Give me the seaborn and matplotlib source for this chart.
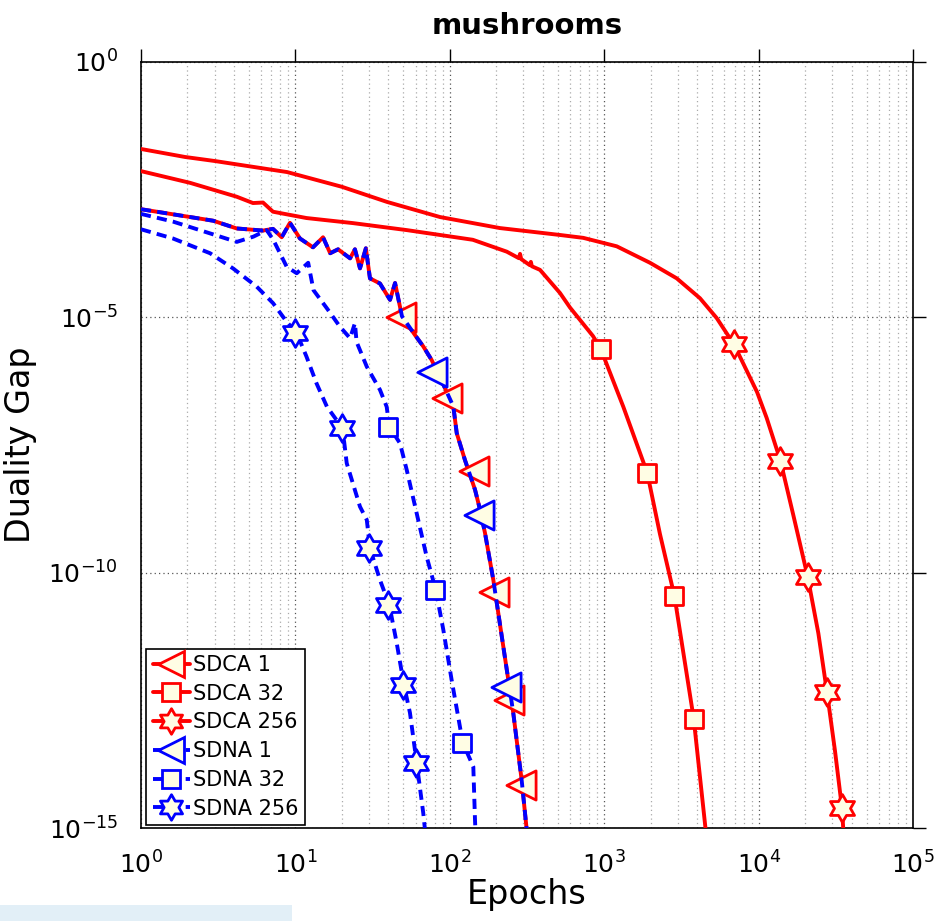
import matplotlib
matplotlib.use("Agg")
import matplotlib.pyplot as plt
import matplotlib.ticker as mticker
from matplotlib.lines import Line2D
from matplotlib.path import Path
from matplotlib.patches import Rectangle
import seaborn as sns

# ---------------- data: duality gap vs. epochs (mushrooms) ----------------
sdca1_x = [1, 2.93, 4.17, 6.17, 7.16, 8.15, 9.22, 10.7, 13.0, 15.1, 16.8, 18.9,
           22.6, 24.3, 26.2, 28.6, 30.4, 35.3, 41.0, 44.2, 47.6, 49, 59.5, 67.3,
           76.3, 93.1, 105.4, 110.9, 125.4, 145.7, 157, 169, 191.4, 222, 257.6,
           292, 315]
sdca1_y = [1.31e-3, 7.8e-4, 5.5e-4, 5.0e-4, 5.4e-4, 3.7e-4, 7.1e-4, 3.5e-4,
           2.35e-4, 3.7e-4, 1.8e-4, 2.15e-4, 1.43e-4, 2.15e-4, 9.1e-5, 2.25e-4,
           5.8e-5, 4.6e-5, 2.2e-5, 4.7e-5, 1.6e-5, 1.05e-5, 4.5e-6, 2.7e-6,
           1.46e-6, 4.1e-7, 1.8e-7, 5.4e-8, 1.6e-8, 4.2e-9, 1.7e-9, 6.0e-10,
           7.2e-11, 3.6e-12, 1.8e-13, 8.7e-15, 9.1e-16]
sdca1_mx = [48, 96, 144, 192, 240, 288]
sdca1_my = [1.02e-5, 2.6e-7, 9.8e-9, 4.1e-11, 3.2e-13, 6.9e-15]

sdca32_x = [1, 2.08, 4.17, 5.31, 6.17, 7.16, 11.8, 23.6, 52.8, 141, 234, 280,
            285, 290, 330, 335, 340, 384, 517, 601, 846, 950, 1330, 1900, 2297,
            2850, 3800, 4613]
sdca32_y = [7.3e-3, 4.3e-3, 2.3e-3, 1.73e-3, 1.77e-3, 1.17e-3, 8.8e-4, 7.0e-4,
            5.1e-4, 3.3e-4, 1.93e-4, 1.44e-4, 1.75e-4, 1.38e-4, 1.05e-4, 1.22e-4,
            1.0e-4, 8.5e-5, 3.0e-5, 1.55e-5, 4.3e-6, 2.4e-6, 1.77e-7, 9.0e-9,
            5.7e-10, 3.5e-11, 1.38e-13, 5.9e-16]
sdca32_mx = [950, 1900, 2850, 3800]
sdca32_my = [2.4e-6, 9.0e-9, 3.5e-11, 1.38e-13]

sdca256_x = [1, 1.93, 3.01, 8.82, 20.0, 39.2, 86.5, 211, 517, 732, 1205, 1980,
             2950, 4170, 5350, 6930, 9770, 11280, 13860, 16800, 20790, 24380,
             27720, 31260, 34650, 35700]
sdca256_y = [1.98e-2, 1.38e-2, 1.15e-2, 7.0e-3, 3.6e-3, 1.82e-3, 9.2e-4, 5.6e-4,
             4.1e-4, 3.6e-4, 2.46e-4, 1.17e-4, 5.8e-5, 2.37e-5, 9.7e-6, 2.94e-6,
             3.45e-7, 1.07e-7, 1.54e-8, 1.32e-9, 8.3e-11, 6.5e-12, 4.6e-13,
             3.2e-14, 2.5e-15, 5.9e-16]
sdca256_mx = [6930, 13860, 20790, 27720, 34650]
sdca256_my = [2.94e-6, 1.54e-8, 8.3e-11, 4.6e-13, 2.5e-15]

sdna1_x = [1, 2.93, 4.17, 6.17, 7.16, 8.15, 9.22, 10.7, 13.0, 15.1, 16.8, 18.9,
           22.6, 24.3, 26.2, 28.6, 30.4, 35.3, 41.0, 44.2, 47.6, 49, 59.5, 67.3,
           76.3, 93.1, 105.4, 110.9, 125.4, 145.7, 157, 169, 191.4, 222, 257.6,
           292, 315]
sdna1_y = [1.31e-3, 7.8e-4, 5.5e-4, 5.0e-4, 5.4e-4, 3.7e-4, 7.1e-4, 3.5e-4,
           2.35e-4, 3.7e-4, 1.8e-4, 2.15e-4, 1.43e-4, 2.15e-4, 9.1e-5, 2.25e-4,
           5.8e-5, 4.6e-5, 2.2e-5, 4.7e-5, 1.6e-5, 1.05e-5, 4.5e-6, 2.7e-6,
           1.46e-6, 4.1e-7, 1.8e-7, 5.4e-8, 1.6e-8, 4.2e-9, 1.7e-9, 6.0e-10,
           7.2e-11, 3.6e-12, 1.8e-13, 8.7e-15, 9.1e-16]
sdna1_mx = [77, 154, 231]
sdna1_my = [8.4e-7, 1.35e-9, 5.8e-13]

sdna32_x = [1, 1.61, 4.17, 5.34, 6.52, 7.19, 8.78, 10.2, 12.1, 13.1, 16.0, 19.4,
            22.6, 24.3, 24.9, 29.0, 35.3, 39.0, 40.6, 47.6, 52.6, 61.0, 70.8,
            81.1, 90.8, 102.8, 121.3, 142, 145.6, 147]
sdna32_y = [1.06e-3, 7.5e-4, 3.0e-4, 3.8e-4, 5.1e-4, 3.3e-4, 9.8e-5, 7.3e-5,
            1.17e-4, 3.4e-5, 1.5e-5, 6.6e-6, 3.9e-6, 7.7e-6, 3.3e-6, 1.08e-6,
            3.8e-7, 1.78e-7, 7.2e-8, 3.4e-8, 1.03e-8, 1.46e-9, 2.06e-10, 4.6e-11,
            7.6e-12, 7.9e-13, 4.7e-14, 1.58e-14, 1.45e-15, 7.2e-16]
sdna32_mx = [40, 80, 120]
sdna32_my = [7.2e-8, 4.6e-11, 4.7e-14]

sdna256_x = [1, 1.61, 2.80, 3.94, 5.61, 7.16, 8.78, 10.2, 11.8, 13.7, 16.0,
             20.2, 21.5, 26.2, 29.0, 30.4, 35.3, 40.6, 45.3, 50.5, 55.2, 61.0,
             67.3, 69.1]
sdna256_y = [5.3e-4, 3.5e-4, 1.8e-4, 9.1e-5, 4.0e-5, 1.9e-5, 8.2e-6, 4.9e-6,
             1.7e-6, 5.1e-7, 1.78e-7, 6.7e-8, 1.39e-8, 1.96e-9, 1.08e-9, 3.0e-10,
             7.2e-11, 2.3e-11, 4.2e-12, 6.3e-13, 1.8e-13, 1.9e-14, 1.97e-15,
             9.1e-16]
sdna256_mx = [10, 20, 30, 40, 50, 60]
sdna256_my = [4.9e-6, 6.7e-8, 3.0e-10, 2.3e-11, 6.3e-13, 1.9e-14]

labels = ["SDCA 1", "SDCA 32", "SDCA 256", "SDNA 1", "SDNA 32", "SDNA 256"]
x_ticks = [1, 10, 100, 1000, 10000, 100000]
y_ticks = [1e-15, 1e-10, 1e-5, 1]

# ---------------- style ----------------
RED = "#ff0000"
BLUE = "#0000ff"
FACE = "#fffde4"
hexagram = Path.unit_regular_star(6, 0.577)
DASH = (0, (2.6, 1.6))

series = [
    (sdca1_x, sdca1_y, sdca1_mx, sdca1_my, RED, "-", "<", 21),
    (sdca32_x, sdca32_y, sdca32_mx, sdca32_my, RED, "-", "s", 13.5),
    (sdca256_x, sdca256_y, sdca256_mx, sdca256_my, RED, "-", hexagram, 20),
    (sdna1_x, sdna1_y, sdna1_mx, sdna1_my, BLUE, DASH, "<", 21),
    (sdna32_x, sdna32_y, sdna32_mx, sdna32_my, BLUE, DASH, "s", 13.5),
    (sdna256_x, sdna256_y, sdna256_mx, sdna256_my, BLUE, DASH, hexagram, 20),
]

sns.set_style("white")
plt.rcParams.update({
    "font.family": ["DejaVu Sans"],
    "mathtext.fontset": "dejavusans",
    "text.color": "black",
    "axes.labelcolor": "black",
    "xtick.color": "black",
    "ytick.color": "black",
})

fig = plt.figure(figsize=(9.36, 9.21), dpi=100)
ax = fig.add_axes([141 / 936, 1 - 828 / 921, 772 / 936, 766 / 921])
ax.set_xscale("log")
ax.set_yscale("log")

LW = 2.8
handles = []
for i, (lx, ly, mx, my, col, ls, mk, ms) in enumerate(series):
    sns.lineplot(x=lx, y=ly, ax=ax, color=col, linewidth=LW, linestyle=ls,
                 estimator=None, sort=False, legend=False, zorder=3 + 2 * i)
    sns.scatterplot(x=mx, y=my, ax=ax, marker=mk, s=ms ** 2, color=FACE,
                    edgecolor=col, linewidth=2.0, legend=False,
                    zorder=4 + 2 * i)
    handles.append(Line2D([0], [0], color=col, lw=LW, linestyle=ls, marker=mk,
                          markersize=ms * 0.92, markerfacecolor=FACE,
                          markeredgecolor=col, markeredgewidth=2.0))

ax.set_xlim(1, 1e5)
ax.set_ylim(1e-15, 1)
ax.set_xticks(x_ticks)
ax.set_yticks(y_ticks)
ax.xaxis.set_minor_locator(mticker.LogLocator(base=10, subs=range(2, 10), numticks=100))
ax.yaxis.set_minor_locator(mticker.NullLocator())

ax.set_axisbelow(True)
ax.grid(True, which="major", axis="both", linestyle=(0, (1, 2.5)),
        color="#555555", linewidth=0.9)
ax.grid(True, which="minor", axis="x", linestyle=(0, (1, 2.5)),
        color="#aaaaaa", linewidth=0.9)

ax.tick_params(which="major", direction="out", length=9.5, width=1.0,
               top=True, right=True, labelsize=18, pad=7)
ax.tick_params(which="minor", length=0, top=True, right=True)
for sp in ax.spines.values():
    sp.set_color("black")
    sp.set_linewidth(1.2)

ax.set_xlabel("Epochs", fontsize=24, labelpad=0)
ax.set_ylabel("Duality Gap", fontsize=24, labelpad=8)
ax.set_title("mushrooms", fontsize=21, fontweight="bold", pad=20)

leg = ax.legend(handles, labels, loc="lower left", bbox_to_anchor=(0.007, 0.004),
                borderaxespad=0, fontsize=15, handlelength=1.8,
                handletextpad=0.15, labelspacing=0.42, borderpad=0.3,
                fancybox=False, framealpha=1, edgecolor="black")
leg.get_frame().set_linewidth(1.2)
leg.set_zorder(20)

fig.patches.append(Rectangle((0, 0), 292 / 936, 16 / 921, transform=fig.transFigure,
                             facecolor="#e2eff7", edgecolor="none", zorder=0))

fig.savefig("out.png", dpi=100)
